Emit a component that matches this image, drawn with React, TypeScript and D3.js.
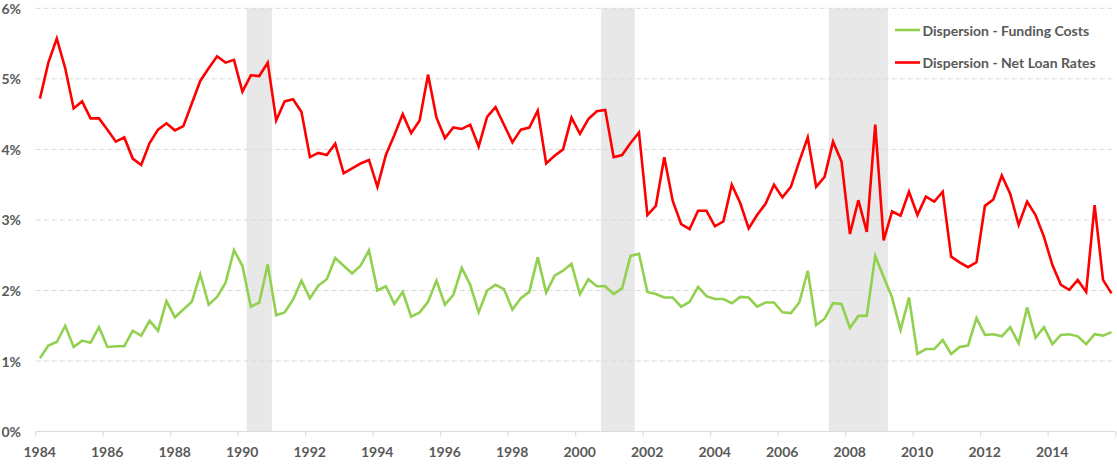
import React, { useEffect, useRef } from "react";
import * as d3 from "d3";

const startYear = 1984.125;
const step = 0.25;

const fundingCosts = [
  1.04, 1.22, 1.27, 1.50, 1.20, 1.29, 1.26, 1.48, 1.20, 1.21, 1.21, 1.43, 1.36, 1.57, 1.43, 1.85,
  1.62, 1.73, 1.84, 2.23, 1.80, 1.91, 2.11, 2.57, 2.35, 1.77, 1.83, 2.37, 1.65, 1.69, 1.87, 2.14,
  1.89, 2.07, 2.16, 2.46, 2.35, 2.24, 2.35, 2.57, 2.00, 2.06, 1.81, 1.98, 1.63, 1.69, 1.84, 2.14,
  1.80, 1.94, 2.32, 2.08, 1.69, 2.00, 2.08, 2.02, 1.73, 1.89, 1.98, 2.47, 1.97, 2.21, 2.28, 2.38,
  1.95, 2.16, 2.06, 2.06, 1.95, 2.03, 2.49, 2.52, 1.98, 1.95, 1.90, 1.90, 1.77, 1.84, 2.05, 1.92,
  1.88, 1.88, 1.82, 1.91, 1.90, 1.77, 1.83, 1.83, 1.69, 1.68, 1.83, 2.28, 1.51, 1.60, 1.82, 1.81,
  1.47, 1.64, 1.64, 2.49, 2.19, 1.90, 1.44, 1.90, 1.10, 1.17, 1.17, 1.30, 1.10, 1.20, 1.22, 1.61,
  1.37, 1.38, 1.35, 1.48, 1.25, 1.76, 1.33, 1.48, 1.24, 1.37, 1.38, 1.35, 1.24, 1.38, 1.36, 1.41,
];

const netLoanRates = [
  4.72, 5.23, 5.57, 5.15, 4.58, 4.68, 4.44, 4.44, 4.28, 4.11, 4.17, 3.87, 3.78, 4.09, 4.28, 4.37,
  4.27, 4.33, 4.65, 4.97, 5.15, 5.32, 5.23, 5.27, 4.82, 5.05, 5.04, 5.23, 4.41, 4.68, 4.71, 4.53,
  3.89, 3.95, 3.92, 4.08, 3.66, 3.73, 3.80, 3.85, 3.47, 3.92, 4.20, 4.50, 4.23, 4.41, 5.06, 4.45,
  4.16, 4.31, 4.29, 4.35, 4.04, 4.46, 4.60, 4.35, 4.10, 4.28, 4.31, 4.55, 3.80, 3.91, 4.00, 4.45,
  4.22, 4.43, 4.54, 4.56, 3.89, 3.92, 4.09, 4.24, 3.07, 3.20, 3.89, 3.27, 2.94, 2.87, 3.13, 3.13,
  2.91, 2.98, 3.50, 3.24, 2.88, 3.07, 3.23, 3.50, 3.32, 3.47, 3.83, 4.17, 3.47, 3.61, 4.11, 3.83,
  2.80, 3.28, 2.83, 4.35, 2.71, 3.12, 3.06, 3.40, 3.07, 3.33, 3.26, 3.40, 2.48, 2.40, 2.33, 2.40,
  3.20, 3.29, 3.63, 3.37, 2.93, 3.26, 3.07, 2.76, 2.36, 2.08, 2.01, 2.15, 1.98, 3.21, 2.15, 1.96,
];

const recessions: [number, number][] = [
  [1990.25, 1991.0],
  [2000.75, 2001.75],
  [2007.5, 2009.25],
];

const xTicks = d3.range(1984, 2017, 2);
const yTicks = [0, 1, 2, 3, 4, 5, 6];

const seriesNames = ["Dispersion - Funding Costs", "Dispersion - Net Loan Rates"];
const seriesColors = ["#92D050", "#FF0000"];

export default function App() {
  const ref = useRef<SVGSVGElement>(null);

  useEffect(() => {
    const svg = d3.select(ref.current);
    svg.selectAll("*").remove();

    const x = d3.scaleLinear().domain([1984, 2016]).range([35.7, 1115.7]);
    const y = d3.scaleLinear().domain([0, 6]).range([431.6, 8.3]);
    const font = "Lato, 'Open Sans', sans-serif";
    const textColor = "#595959";

    // recession bands
    svg
      .append("g")
      .selectAll("rect")
      .data(recessions)
      .join("rect")
      .attr("x", (d) => x(d[0]))
      .attr("width", (d) => x(d[1]) - x(d[0]))
      .attr("y", y(6))
      .attr("height", y(0) - y(6))
      .attr("fill", "#E8E8E8");

    // gridlines
    svg
      .append("g")
      .selectAll("line")
      .data(yTicks.filter((t) => t > 0))
      .join("line")
      .attr("x1", x(1984))
      .attr("x2", x(2016))
      .attr("y1", (d) => y(d))
      .attr("y2", (d) => y(d))
      .attr("stroke", "#D9D9D9")
      .attr("stroke-width", 1)
      .attr("stroke-dasharray", "5,3");

    // x axis
    const xAxis = svg.append("g");
    xAxis
      .append("line")
      .attr("x1", x(1984))
      .attr("x2", x(2016))
      .attr("y1", y(0))
      .attr("y2", y(0))
      .attr("stroke", "#D9D9D9")
      .attr("stroke-width", 1);
    xAxis
      .selectAll("line.tick")
      .data(xTicks)
      .join("line")
      .attr("class", "tick")
      .attr("x1", (d) => x(d))
      .attr("x2", (d) => x(d))
      .attr("y1", y(0))
      .attr("y2", y(0) + 5)
      .attr("stroke", "#D9D9D9")
      .attr("stroke-width", 1);
    xAxis
      .selectAll("text")
      .data(xTicks.filter((t) => t < 2016))
      .join("text")
      .attr("x", (d) => x(d) + 4)
      .attr("y", 451)
      .attr("text-anchor", "middle")
      .attr("dominant-baseline", "central")
      .attr("font-family", font)
      .attr("font-weight", "bold")
      .attr("font-size", 14)
      .attr("fill", textColor)
      .text((d) => String(d));

    // y labels
    svg
      .append("g")
      .selectAll("text")
      .data(yTicks)
      .join("text")
      .attr("x", 21)
      .attr("y", (d) => y(d))
      .attr("text-anchor", "end")
      .attr("dominant-baseline", "central")
      .attr("font-family", font)
      .attr("font-weight", "bold")
      .attr("font-size", 14)
      .attr("fill", textColor)
      .text((d) => `${d}%`);

    const line = d3
      .line<number>()
      .x((_, i) => x(startYear + i * step))
      .y((d) => y(d));

    [fundingCosts, netLoanRates].forEach((s, i) => {
      svg
        .append("path")
        .datum(s)
        .attr("d", line)
        .attr("fill", "none")
        .attr("stroke", seriesColors[i])
        .attr("stroke-width", 2.6)
        .attr("stroke-linejoin", "miter");
    });

    // legend
    const legend = svg.append("g");
    seriesNames.forEach((name, i) => {
      const ly = 30 + i * 32.5;
      legend
        .append("line")
        .attr("x1", 895)
        .attr("x2", 920)
        .attr("y1", ly)
        .attr("y2", ly)
        .attr("stroke", seriesColors[i])
        .attr("stroke-width", 2.6);
      legend
        .append("text")
        .attr("x", 922.5)
        .attr("y", ly)
        .attr("dominant-baseline", "central")
        .attr("font-family", font)
        .attr("font-weight", "bold")
        .attr("font-size", 14)
        .attr("fill", textColor)
        .text(name);
    });
  }, []);

  return (
    <div style={{ position: "absolute", left: 0, top: 0 }}>
      <svg ref={ref} width={1117} height={464} style={{ display: "block", background: "#fff" }} />
    </div>
  );
}
